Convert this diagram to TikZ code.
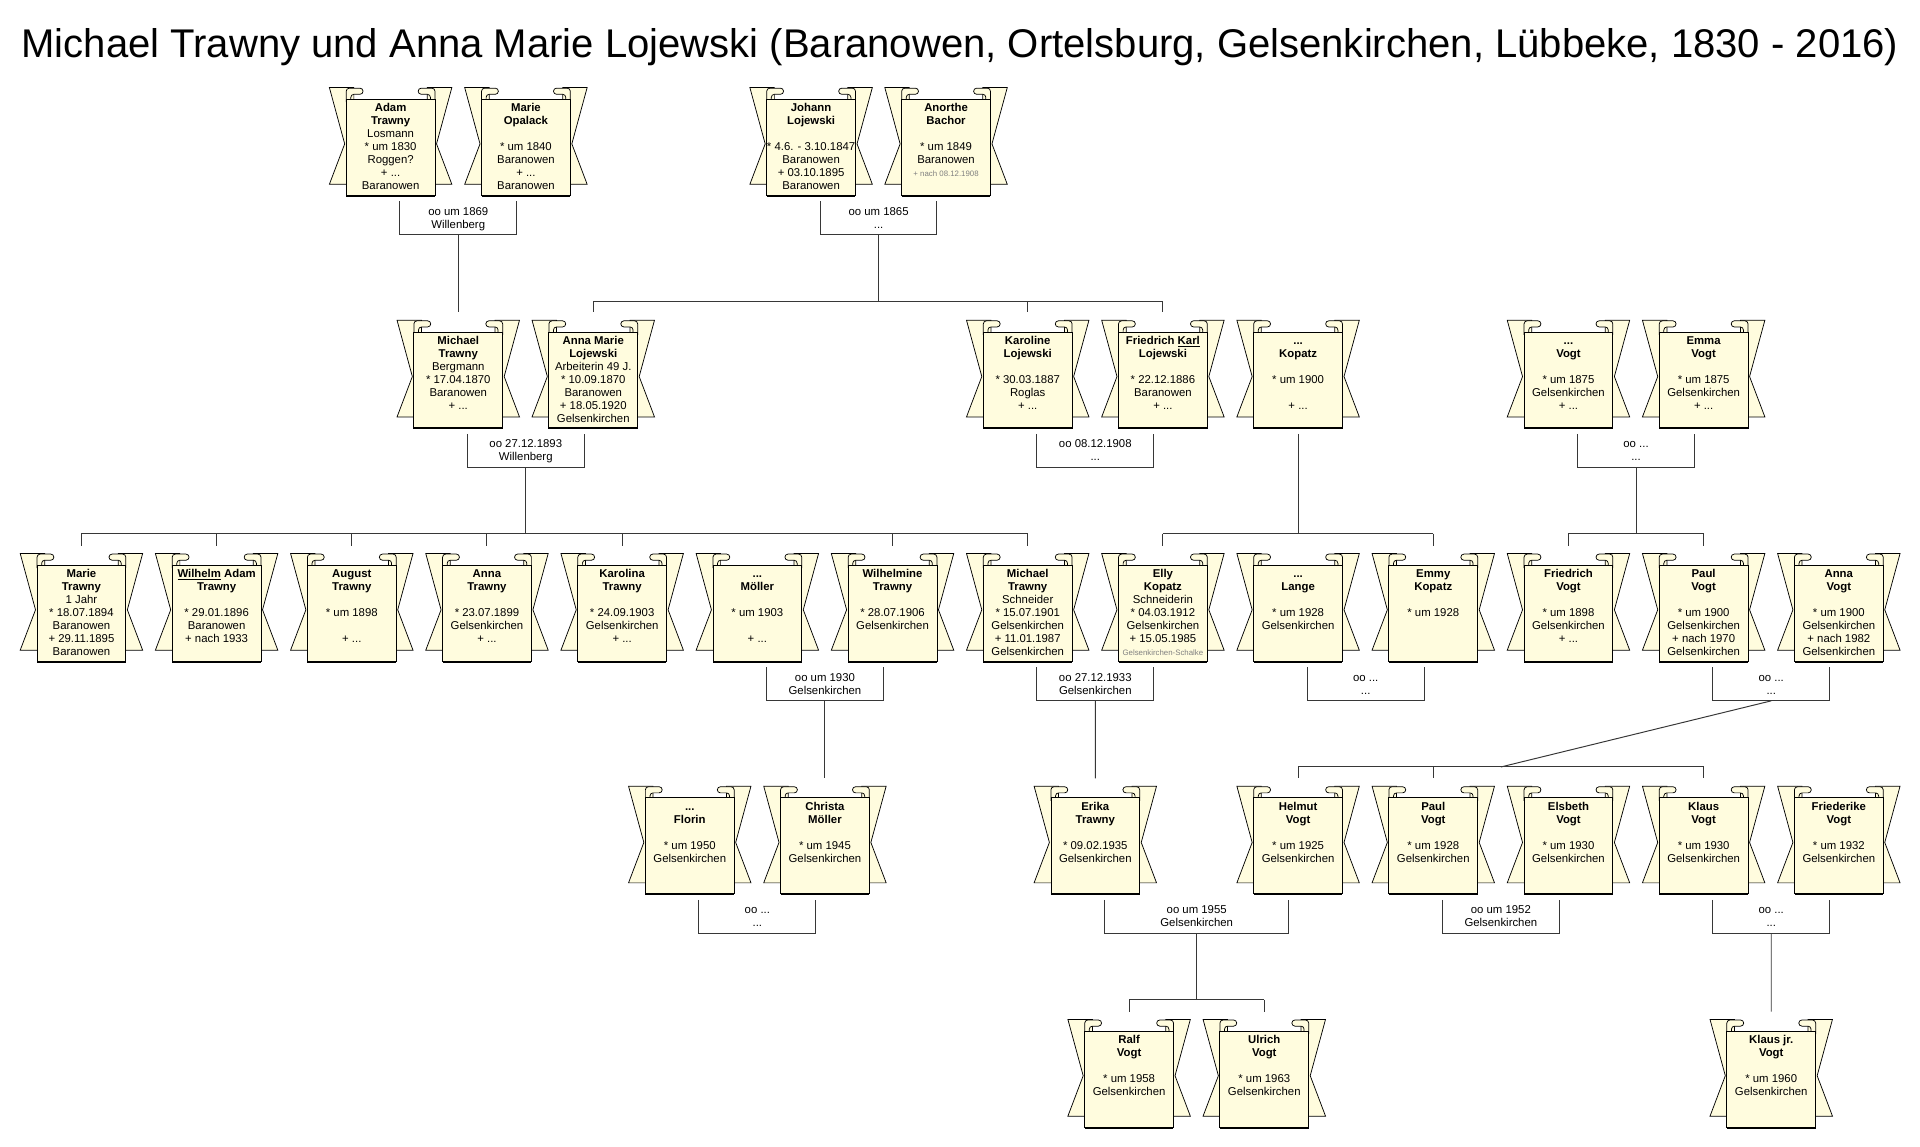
\documentclass[tikz,border=0pt]{standalone}
\usepackage{fontspec}
\setmainfont{Liberation Sans}
\usepackage{xcolor}
\usetikzlibrary{calc}

\definecolor{scrollcream}{RGB}{255,252,222}
\definecolor{treegray}{RGB}{55,55,55}

\newcommand{\scroll}[4]{%
    \begin{scope}[shift={(#2,#3)}]
    \filldraw[scrollback](-50,0)--(-30,0)--(-30,79)--(-50,79)--(-37.5,46)--cycle;
    \filldraw[scrollback](50,0)--(30,0)--(30,79)--(50,79)--(37.5,46)--cycle;
    \filldraw[scrollback,rounded corners=2.5](-36.25,12)--(-36.25,0.5)--(-22.5,0.5)--(-22.5,5.5)--(-32.5,5.5)--(-32.5,12);
    \filldraw[scrollback,rounded corners=2.5](36.25,12)--(36.25,0.5)--(22.5,0.5)--(22.5,5.5)--(32.5,5.5)--(32.5,12);
    \node[scrollcard](#1)at(0,48.8){};
    \draw[line width=1.5pt]([xshift=0.4pt]#1.south west)--([xshift=-0.4pt]#1.south east);
    \node[scrolltext](#1-t)at(#1.north){\strut #4};
    \end{scope}}

\newcommand{\oo}[5]{%
    \coordinate(#3)at($(#1.south)!0.5!(#2.south)+(0,32)$);
    \draw[tree]([shift={(7.5,4.5)}]#1.south)--++(0,27.5)-|([shift={(-7.5,4.5)}]#2.south);
    \node[oolabel](#3-l)at(#3){#4\\#5\strut};}

\begin{document}
\begin{tikzpicture}[x=1pt,y=-1pt,
    scrollback/.style={fill=scrollcream,draw=black,line width=0.6pt},
    scrollcard/.style={fill=scrollcream,draw=black,line width=0.7pt,minimum width=72.5pt,minimum height=78.4pt,inner sep=0pt},
    scrolltext/.style={anchor=north,inner xsep=0pt,inner ysep=2.7pt,align=center,font=\fontsize{9.28}{10.6}\selectfont},
    oolabel/.style={anchor=south,yshift=2.2pt,inner sep=0pt,align=center,font=\fontsize{9.28}{10.6}\selectfont},
    tree/.style={draw=treegray,line width=0.8pt}]
    \useasboundingbox(0,0)rectangle(1568,936.7);

    \node[anchor=base,font=\fontsize{32.7}{36}\selectfont](title)at(784,47){Michael Trawny und Anna Marie Lojewski (Baranowen, Ortelsburg, Gelsenkirchen, Lübbeke, 1830 - 2016)};

    % Generation 1
    \scroll{adam}{319}{71.5}{\textbf{Adam}\\\textbf{Trawny}\\Losmann\\* um 1830\\Roggen?\\+ ...\\Baranowen}
    \scroll{opalack}{429.5}{71.5}{\textbf{Marie}\\\textbf{Opalack}\\~\\* um 1840\\Baranowen\\+ ...\\Baranowen}
    \scroll{johann}{662.4}{71.5}{\textbf{Johann}\\\textbf{Lojewski}\\~\\* 4.6. - 3.10.1847\\Baranowen\\+ 03.10.1895\\Baranowen}
    \scroll{anorthe}{772.6}{71.5}{\textbf{Anorthe}\\\textbf{Bachor}\\~\\* um 1849\\Baranowen\\{\fontsize{6.4}{10.6}\selectfont\color{gray}+ nach 08.12.1908}}

    % Generation 2
    \scroll{michael}{374.25}{261.5}{\textbf{Michael}\\\textbf{Trawny}\\Bergmann\\* 17.04.1870\\Baranowen\\+ ...}
    \scroll{annamarie}{484.5}{261.5}{\textbf{Anna Marie}\\\textbf{Lojewski}\\Arbeiterin 49 J.\\* 10.09.1870\\Baranowen\\+ 18.05.1920\\Gelsenkirchen}
    \scroll{karoline}{839.3}{261.5}{\textbf{Karoline}\\\textbf{Lojewski}\\~\\* 30.03.1887\\Roglas\\+ ...}
    \scroll{fkarl}{949.7}{261.5}{\textbf{Friedrich \underline{Karl}}\\\textbf{Lojewski}\\~\\* 22.12.1886\\Baranowen\\+ ...}
    \scroll{kopatz}{1060.1}{261.5}{\textbf{...}\\\textbf{Kopatz}\\~\\* um 1900\\~\\+ ...}
    \scroll{vogt}{1280.9}{261.5}{\textbf{...}\\\textbf{Vogt}\\~\\* um 1875\\Gelsenkirchen\\+ ...}
    \scroll{emma}{1391.3}{261.5}{\textbf{Emma}\\\textbf{Vogt}\\~\\* um 1875\\Gelsenkirchen\\+ ...}

    % Generation 3
    \scroll{marieT}{66.5}{452}{\textbf{Marie}\\\textbf{Trawny}\\1 Jahr\\* 18.07.1894\\Baranowen\\+ 29.11.1895\\Baranowen}
    \scroll{wilhelm}{176.9}{452}{\textbf{\underline{Wilhelm} Adam}\\\textbf{Trawny}\\~\\* 29.01.1896\\Baranowen\\+ nach 1933}
    \scroll{august}{287.3}{452}{\textbf{August}\\\textbf{Trawny}\\~\\* um 1898\\~\\+ ...}
    \scroll{annaT}{397.7}{452}{\textbf{Anna}\\\textbf{Trawny}\\~\\* 23.07.1899\\Gelsenkirchen\\+ ...}
    \scroll{karolina}{508.1}{452}{\textbf{Karolina}\\\textbf{Trawny}\\~\\* 24.09.1903\\Gelsenkirchen\\+ ...}
    \scroll{moeller}{618.5}{452}{\textbf{...}\\\textbf{Möller}\\~\\* um 1903\\~\\+ ...}
    \scroll{wilhelmine}{728.9}{452}{\textbf{Wilhelmine}\\\textbf{Trawny}\\~\\* 28.07.1906\\Gelsenkirchen}
    \scroll{michaelT}{839.3}{452}{\textbf{Michael}\\\textbf{Trawny}\\Schneider\\* 15.07.1901\\Gelsenkirchen\\+ 11.01.1987\\Gelsenkirchen}
    \scroll{elly}{949.7}{452}{\textbf{Elly}\\\textbf{Kopatz}\\Schneiderin\\* 04.03.1912\\Gelsenkirchen\\+ 15.05.1985\\{\fontsize{6.4}{10.6}\selectfont\color{gray}Gelsenkirchen-Schalke}}
    \scroll{lange}{1060.1}{452}{\textbf{...}\\\textbf{Lange}\\~\\* um 1928\\Gelsenkirchen}
    \scroll{emmy}{1170.5}{452}{\textbf{Emmy}\\\textbf{Kopatz}\\~\\* um 1928}
    \scroll{friedrich}{1280.9}{452}{\textbf{Friedrich}\\\textbf{Vogt}\\~\\* um 1898\\Gelsenkirchen\\+ ...}
    \scroll{paulV}{1391.3}{452}{\textbf{Paul}\\\textbf{Vogt}\\~\\* um 1900\\Gelsenkirchen\\+ nach 1970\\Gelsenkirchen}
    \scroll{annaV}{1501.7}{452}{\textbf{Anna}\\\textbf{Vogt}\\~\\* um 1900\\Gelsenkirchen\\+ nach 1982\\Gelsenkirchen}

    % Generation 4
    \scroll{florin}{563.3}{642}{\textbf{...}\\\textbf{Florin}\\~\\* um 1950\\Gelsenkirchen}
    \scroll{christa}{673.7}{642}{\textbf{Christa}\\\textbf{Möller}\\~\\* um 1945\\Gelsenkirchen}
    \scroll{erika}{894.5}{642}{\textbf{Erika}\\\textbf{Trawny}\\~\\* 09.02.1935\\Gelsenkirchen}
    \scroll{helmut}{1060.1}{642}{\textbf{Helmut}\\\textbf{Vogt}\\~\\* um 1925\\Gelsenkirchen}
    \scroll{paulJ}{1170.5}{642}{\textbf{Paul}\\\textbf{Vogt}\\~\\* um 1928\\Gelsenkirchen}
    \scroll{elsbeth}{1280.9}{642}{\textbf{Elsbeth}\\\textbf{Vogt}\\~\\* um 1930\\Gelsenkirchen}
    \scroll{klaus}{1391.3}{642}{\textbf{Klaus}\\\textbf{Vogt}\\~\\* um 1930\\Gelsenkirchen}
    \scroll{friederike}{1501.7}{642}{\textbf{Friederike}\\\textbf{Vogt}\\~\\* um 1932\\Gelsenkirchen}

    % Generation 5
    \scroll{ralf}{922.1}{832.5}{\textbf{Ralf}\\\textbf{Vogt}\\~\\* um 1958\\Gelsenkirchen}
    \scroll{ulrich}{1032.5}{832.5}{\textbf{Ulrich}\\\textbf{Vogt}\\~\\* um 1963\\Gelsenkirchen}
    \scroll{klausjr}{1446.5}{832.5}{\textbf{Klaus jr.}\\\textbf{Vogt}\\~\\* um 1960\\Gelsenkirchen}

    % marriages and children
    \oo{adam}{opalack}{m1}{oo um 1869}{Willenberg}
    \draw[tree](m1)--([yshift=15.6pt]michael.north);

    \oo{johann}{anorthe}{m2}{oo um 1865}{...}
    \draw[tree](m2)--++(0,54)coordinate(m2b);
    \draw[tree](m2b-|annamarie)--(m2b-|fkarl);
    \draw[tree](m2b-|annamarie)--([yshift=15.6pt]annamarie.north);
    \draw[tree](m2b-|karoline)--([yshift=15.6pt]karoline.north);
    \draw[tree](m2b-|fkarl)--([yshift=15.6pt]fkarl.north);

    \oo{michael}{annamarie}{m3}{oo 27.12.1893}{Willenberg}
    \draw[tree](m3)--++(0,54)coordinate(m3b);
    \draw[tree](m3b-|marieT)--(m3b-|michaelT);
    \draw[tree](m3b-|marieT)--([yshift=15.6pt]marieT.north);
    \draw[tree](m3b-|wilhelm)--([yshift=15.6pt]wilhelm.north);
    \draw[tree](m3b-|august)--([yshift=15.6pt]august.north);
    \draw[tree](m3b-|annaT)--([yshift=15.6pt]annaT.north);
    \draw[tree](m3b-|karolina)--([yshift=15.6pt]karolina.north);
    \draw[tree](m3b-|wilhelmine)--([yshift=15.6pt]wilhelmine.north);
    \draw[tree](m3b-|michaelT)--([yshift=15.6pt]michaelT.north);

    \oo{karoline}{fkarl}{m4}{oo 08.12.1908}{...}

    \draw[tree]([yshift=-4.5pt]kopatz.south)--++(0,81.5)coordinate(k1);
    \draw[tree](k1-|elly)--(k1-|emmy);
    \draw[tree](k1-|elly)--([yshift=15.6pt]elly.north);
    \draw[tree](k1-|emmy)--([yshift=15.6pt]emmy.north);

    \oo{vogt}{emma}{m5}{oo ...}{...}
    \draw[tree](m5)--++(0,54)coordinate(m5b);
    \draw[tree](m5b-|friedrich)--(m5b-|paulV);
    \draw[tree](m5b-|friedrich)--([yshift=15.6pt]friedrich.north);
    \draw[tree](m5b-|paulV)--([yshift=15.6pt]paulV.north);

    \oo{moeller}{wilhelmine}{m6}{oo um 1930}{Gelsenkirchen}
    \draw[tree](m6)--([yshift=15.6pt]christa.north);

    \oo{michaelT}{elly}{m7}{oo 27.12.1933}{Gelsenkirchen}
    \draw[tree](m7)--([yshift=15.6pt]erika.north);

    \oo{lange}{emmy}{m8}{oo ...}{...}

    \oo{paulV}{annaV}{m9}{oo ...}{...}
    \path(m9)++(0,54)coordinate(m9y);
    \coordinate(hk)at($(helmut)!0.5!(klaus)$);
    \coordinate(m9b)at(hk|-m9y);
    \draw[tree](m9)--(m9b);
    \draw[tree](m9b-|helmut)--(m9b-|klaus);
    \draw[tree](m9b-|helmut)--([yshift=15.6pt]helmut.north);
    \draw[tree](m9b-|paulJ)--([yshift=15.6pt]paulJ.north);
    \draw[tree](m9b-|klaus)--([yshift=15.6pt]klaus.north);

    \oo{florin}{christa}{m10}{oo ...}{...}

    \oo{erika}{helmut}{m11}{oo um 1955}{Gelsenkirchen}
    \draw[tree](m11)--++(0,54)coordinate(m11b);
    \draw[tree](m11b-|ralf)--(m11b-|ulrich);
    \draw[tree](m11b-|ralf)--([yshift=15.6pt]ralf.north);
    \draw[tree](m11b-|ulrich)--([yshift=15.6pt]ulrich.north);

    \oo{paulJ}{elsbeth}{m12}{oo um 1952}{Gelsenkirchen}

    \oo{klaus}{friederike}{m13}{oo ...}{...}
    \draw[tree](m13)--([yshift=15.6pt]klausjr.north);
\end{tikzpicture}
\end{document}
